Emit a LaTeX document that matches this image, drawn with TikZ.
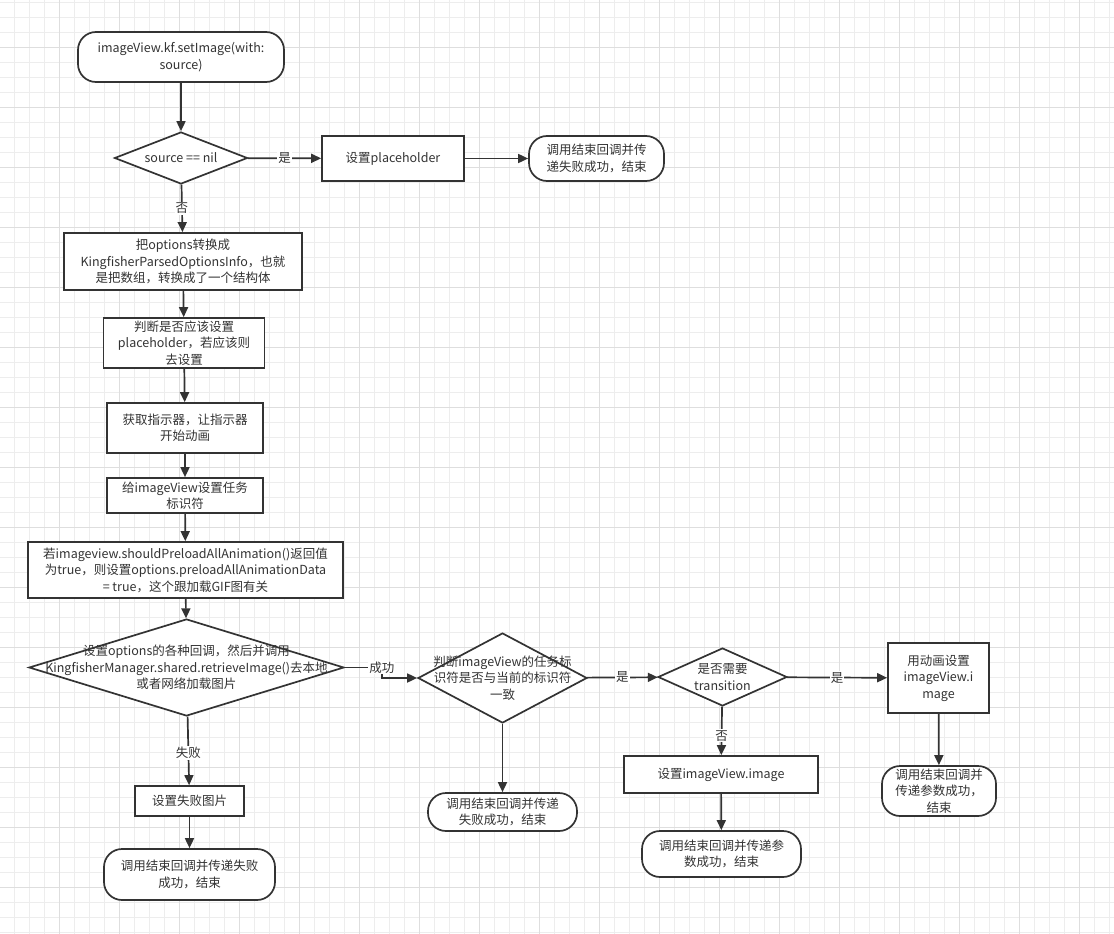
\documentclass[tikz,border=0pt]{standalone}
\usepackage{fontspec}
\setmainfont{Noto Sans CJK SC}
\usetikzlibrary{arrows.meta}
\usetikzlibrary{shapes.geometric}

\definecolor{ink}{HTML}{333333}

\tikzset{
  box/.style={draw=ink, line width=1.7pt, fill=white, align=center, inner sep=2pt},
  term/.style={box, rounded corners=18pt},
  dia/.style={draw=ink, line width=1.7pt, fill=white, diamond, inner sep=0pt},
  flow/.style={draw=ink, line width=1.7pt, -{Triangle[length=10pt,width=9pt]}},
  lbl/.style={fill=white, inner sep=1pt},
}

\begin{document}
\begin{tikzpicture}[x=1pt, y=-1pt, font=\fontsize{12.5}{16.5}\selectfont, text=ink]

\useasboundingbox (0,0) rectangle (1114,934);
\foreach \x in {14,29,...,1114} \draw[black!7] (\x,0) -- (\x,934);
\foreach \y in {2,17,...,934} \draw[black!7] (0,\y) -- (1114,\y);
\foreach \x in {59,119,...,1114} \draw[black!13] (\x,0) -- (\x,934);
\foreach \y in {47,107,...,934} \draw[black!13] (0,\y) -- (1114,\y);

\node[term, minimum width=206, minimum height=50] (start) at (181,57) {imageView.kf.setImage(with:\\source)};
\node[dia, minimum width=133, minimum height=52, label={[align=center]center:{source == nil}}] (nil) at (181,158) {};
\node[box, minimum width=142, minimum height=45] (ph) at (393,158.5) {设置placeholder};
\node[term, minimum width=135, minimum height=45] (endph) at (596.5,158.5) {调用结束回调并传\\递失败成功，结束};
\node[box, minimum width=238, minimum height=57] (opt) at (183,261.5) {把options转换成\\KingfisherParsedOptionsInfo，也就\\是把数组，转换成了一个结构体};
\node[box, minimum width=161, minimum height=50] (judge) at (184,343) {判断是否应该设置\\placeholder，若应该则\\去设置};
\node[box, minimum width=156, minimum height=50] (ind) at (185,428) {获取指示器，让指示器\\开始动画};
\node[box, minimum width=156, minimum height=35] (task) at (185,495.5) {给imageView设置任务\\标识符};
\node[box, minimum width=315, minimum height=56] (pre) at (185.5,570) {若imageview.shouldPreloadAllAnimation()返回值\\为true，则设置options.preloadAllAnimationData\\= true，这个跟加载GIF图有关};
\node[dia, minimum width=315, minimum height=97, label={[align=center]center:{设置options的各种回调，然后并调用\\KingfisherManager.shared.retrieveImage()去本地\\或者网络加载图片}}] (load) at (186.5,667.5) {};
\node[box, minimum width=109, minimum height=30] (failimg) at (189.5,801) {设置失败图片};
\node[term, minimum width=171, minimum height=51] (endfail) at (189.5,874.5) {调用结束回调并传递失败\\成功，结束};
\node[dia, minimum width=169, minimum height=90, label={[align=center]center:{判断imageView的任务标\\识符是否与当前的标识符\\一致}}] (same) at (502.5,678) {};
\node[term, minimum width=149, minimum height=38] (endsame) at (502.5,812) {调用结束回调并传递\\失败成功，结束};
\node[dia, minimum width=129, minimum height=58, label={[align=center]center:{是否需要\\transition}}] (trans) at (722.5,677) {};
\node[box, minimum width=101, minimum height=70] (anim) at (938.5,678) {用动画设置\\imageView.i\\mage};
\node[box, minimum width=194, minimum height=37] (setimg) at (721,774.5) {设置imageView.image};
\node[term, minimum width=159, minimum height=46] (endset) at (721.5,854) {调用结束回调并传递参\\数成功，结束};
\node[term, minimum width=114, minimum height=50] (endanim) at (939,791) {调用结束回调并\\传递参数成功，\\结束};

\draw[flow] (start) -- (nil);
\draw[flow] (nil) -- node[lbl]{是} (ph);
\draw[flow] (ph) -- (endph);
\draw[flow] (nil) -- node[lbl]{否} (opt);
\draw[flow] (opt) -- (judge);
\draw[flow] (judge) -- (ind);
\draw[flow] (ind) -- (task);
\draw[flow] (task) -- (pre);
\draw[flow] (pre) -- (load);
\draw[flow] (load) -- node[lbl, pos=.53]{失败} (failimg);
\draw[flow] (failimg) -- (endfail);
\draw[flow] (load.east) -- ++(37,0) node[lbl]{成功} |- (same.west);
\draw[flow] (same) -- (endsame);
\draw[flow] (same) -- node[lbl]{是} (trans);
\draw[flow] (trans) -- node[lbl]{是} (anim);
\draw[flow] (trans) -- node[lbl, pos=.6]{否} (setimg);
\draw[flow] (setimg) -- (endset);
\draw[flow] (anim) -- (endanim);

\end{tikzpicture}
\end{document}
